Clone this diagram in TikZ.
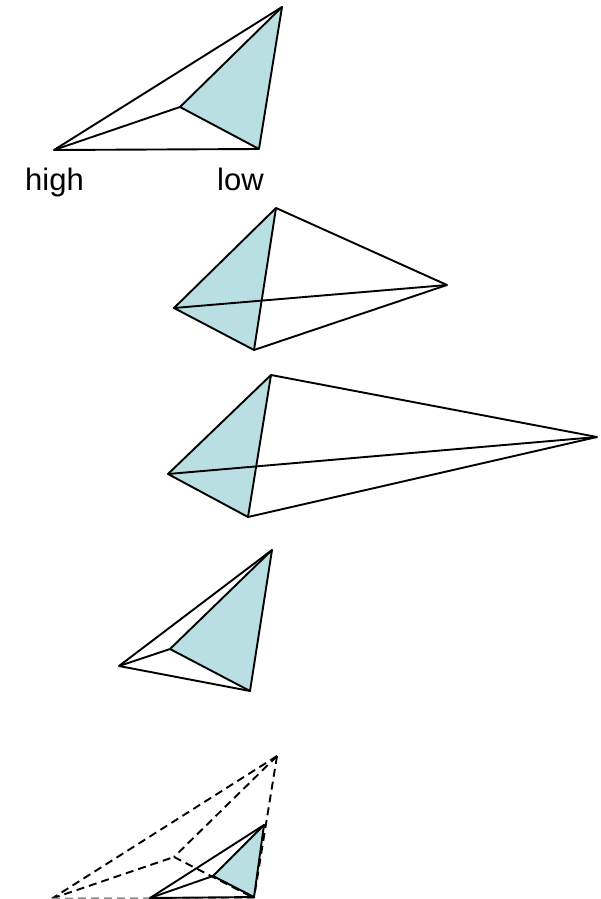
\documentclass[tikz,border=0pt]{standalone}
\usepackage{fontspec}
\setmainfont{Liberation Sans}
\definecolor{tealfill}{HTML}{B9DFE3}
\tikzset{
  edge/.style={draw=black,line width=1.9pt,line join=round},
  dashedge/.style={draw=black,line width=1.9pt,dash pattern=on 8pt off 5pt},
  face/.style={fill=tealfill,draw=none},
  lab/.style={font=\fontsize{31}{36}\selectfont,inner sep=0pt,text=black,anchor=base}
}
\begin{document}
\begin{tikzpicture}[x=1pt,y=-1pt]
\useasboundingbox (0,0) rectangle (601,899);
\clip (0,0) rectangle (601,899);
% shape 1
\coordinate (a1) at (282,7);
\coordinate (b1) at (54,150);
\coordinate (c1) at (180,107);
\coordinate (d1) at (259,149);
\path[face] (a1) -- (c1) -- (d1) -- cycle;
\draw[edge] (a1) -- (b1) -- (d1) -- cycle;
\draw[edge] (b1) -- (c1) -- (d1);
\draw[edge] (c1) -- (a1);
\node[lab] (high) at (54.5,190) {high};
\node[lab] (low) at (240.5,190) {low};
% shape 2
\coordinate (a2) at (276,208);
\coordinate (b2) at (174,308);
\coordinate (c2) at (254,350);
\coordinate (d2) at (447,285);
\path[face] (a2) -- (b2) -- (c2) -- cycle;
\draw[edge] (a2) -- (b2) -- (c2) -- (d2) -- cycle;
\draw[edge] (a2) -- (c2);
\draw[edge] (b2) -- (d2);
% shape 3
\coordinate (a3) at (271,375);
\coordinate (b3) at (168,474);
\coordinate (c3) at (248,517);
\coordinate (d3) at (597,437);
\path[face] (a3) -- (b3) -- (c3) -- cycle;
\draw[edge] (a3) -- (b3) -- (c3) -- (d3) -- cycle;
\draw[edge] (a3) -- (c3);
\draw[edge] (b3) -- (d3);
% shape 4
\coordinate (a4) at (272,550);
\coordinate (b4) at (119,666);
\coordinate (c4) at (170,649);
\coordinate (d4) at (250,691);
\path[face] (a4) -- (c4) -- (d4) -- cycle;
\draw[edge] (a4) -- (b4) -- (d4) -- cycle;
\draw[edge] (b4) -- (c4) -- (d4);
\draw[edge] (c4) -- (a4);
% shape 5 dashed
\coordinate (a5) at (277,756);
\coordinate (b5) at (52,898.5);
\coordinate (c5) at (174,857);
\coordinate (d5) at (254,898);
\draw[dashedge] (a5) -- (b5);
\draw[dashedge] (a5) -- (c5);
\draw[dashedge] (b5) -- (c5);
\draw[dashedge] (c5) -- (d5);
\draw[dashedge] (a5) -- (d5);
\draw[dashedge,draw=black!45] (b5) -- (d5);
% shape 5 solid
\coordinate (e5) at (264,825);
\coordinate (f5) at (150,898);
\coordinate (g5) at (213,876);
\coordinate (h5) at (254,897);
\path[face] (e5) -- (g5) -- (h5) -- cycle;
\draw[edge] (e5) -- (f5) -- (h5) -- cycle;
\draw[edge] (f5) -- (g5) -- (h5);
\draw[edge] (g5) -- (e5);
\end{tikzpicture}
\end{document}
